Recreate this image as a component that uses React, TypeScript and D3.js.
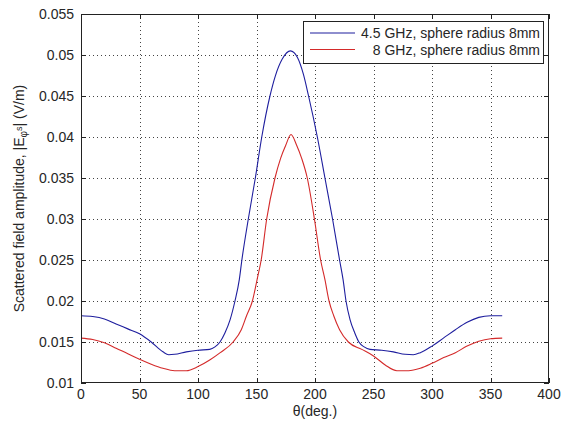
import { useEffect, useRef } from 'react'
import * as d3 from 'd3'

// 4.5 GHz, sphere radius 8mm
const thetaBlue = [0, 10, 20, 30, 40, 50, 60, 70, 75, 80, 90, 100, 110, 114.5, 118.8, 123, 127.4, 131.6, 135.3, 137.5, 143, 149, 154.5, 161.5, 166, 172, 179, 185, 190, 194.5, 202, 208.5, 215, 221, 224, 226.5, 230, 234, 237.5, 242, 247, 257, 267, 277, 284, 290, 300, 310, 320, 330, 340, 350, 360]
const ampBlue = [0.0182, 0.0181, 0.0178, 0.0172, 0.0166, 0.016, 0.015, 0.0138, 0.01345, 0.0135, 0.0138, 0.014, 0.0141, 0.0144, 0.015, 0.0161, 0.0177, 0.02, 0.0226, 0.025, 0.03, 0.035, 0.04, 0.045, 0.0474, 0.0495, 0.0505, 0.0497, 0.0477, 0.045, 0.04, 0.035, 0.03, 0.025, 0.0226, 0.02, 0.0177, 0.0161, 0.015, 0.0144, 0.0141, 0.014, 0.0138, 0.0135, 0.01345, 0.0137, 0.0145, 0.0155, 0.0165, 0.0174, 0.018, 0.0182, 0.0182]

// 8 GHz, sphere radius 8mm
const thetaRed = [0, 10, 20, 30, 40, 50, 60, 70, 80, 90, 100, 110, 119, 130, 137, 141.5, 146.5, 150.5, 154, 158.7, 165.8, 170.6, 175, 179.5, 184.3, 188.6, 193.4, 199.5, 204.8, 208.5, 212, 216, 221, 228.5, 240, 250, 260, 270, 280, 290, 300, 310, 320, 330, 340, 350, 360]
const ampRed = [0.01547, 0.0153, 0.0149, 0.01425, 0.01356, 0.0129, 0.0123, 0.0118, 0.0115, 0.0115, 0.012, 0.0128, 0.0137, 0.015, 0.0165, 0.0182, 0.02, 0.0226, 0.025, 0.03, 0.035, 0.0374, 0.039, 0.0403, 0.039, 0.0374, 0.035, 0.03, 0.025, 0.0226, 0.02, 0.0182, 0.0165, 0.015, 0.0141, 0.0133, 0.0122, 0.0115, 0.0115, 0.0118, 0.0124, 0.0131, 0.0137, 0.0145, 0.0151, 0.0154, 0.01547]

const xTicks = [0, 50, 100, 150, 200, 250, 300, 350, 400]
const yTicks = [0.01, 0.015, 0.02, 0.025, 0.03, 0.035, 0.04, 0.045, 0.05, 0.055]
const yTickLabels = ['0.01', '0.015', '0.02', '0.025', '0.03', '0.035', '0.04', '0.045', '0.05', '0.055']

const seriesNames = ['4.5 GHz, sphere radius 8mm', '8 GHz, sphere radius 8mm']
const seriesColors = ['#1e1e9e', '#d42a2a']

export default function App() {
  const svgRef = useRef<SVGSVGElement>(null)

  useEffect(() => {
    if (!svgRef.current) return
    const width = 569
    const height = 425
    const margin = { top: 14, right: 20, bottom: 42, left: 81 }
    const innerW = width - margin.left - margin.right
    const innerH = height - margin.top - margin.bottom
    const font = 'Arial, "Liberation Sans", sans-serif'
    const textColor = '#262626'

    const svg = d3.select(svgRef.current)
    svg.selectAll('*').remove()
    svg.attr('width', width).attr('height', height)
    svg.append('rect').attr('width', width).attr('height', height).attr('fill', '#fff')

    const g = svg.append('g').attr('transform', `translate(${margin.left},${margin.top})`)

    const x = d3.scaleLinear().domain([0, 400]).range([0, innerW])
    const y = d3.scaleLinear().domain([0.01, 0.055]).range([innerH, 0])

    // Grid (dotted)
    xTicks.slice(1, -1).forEach(t => {
      g.append('line')
        .attr('x1', Math.round(x(t)) + 0.5).attr('x2', Math.round(x(t)) + 0.5)
        .attr('y1', 0).attr('y2', innerH)
        .attr('stroke', '#444').attr('stroke-dasharray', '1,3')
    })
    yTicks.slice(1, -1).forEach(t => {
      g.append('line')
        .attr('y1', Math.round(y(t)) + 0.5).attr('y2', Math.round(y(t)) + 0.5)
        .attr('x1', 0).attr('x2', innerW)
        .attr('stroke', '#444').attr('stroke-dasharray', '1,3')
    })

    // Curves
    const series = [
      { th: thetaBlue, amp: ampBlue },
      { th: thetaRed, amp: ampRed },
    ]
    const line = d3.line<[number, number]>()
      .x(d => x(d[0]))
      .y(d => y(d[1]))
      .curve(d3.curveMonotoneX)
    series.forEach((s, i) => {
      const pts: [number, number][] = s.th.map((t, k) => [t, s.amp[k]])
      g.append('path')
        .attr('d', line(pts))
        .attr('fill', 'none')
        .attr('stroke', seriesColors[i])
        .attr('stroke-width', 1.1)
    })

    // Box
    g.append('rect')
      .attr('x', 0.5).attr('y', 0.5)
      .attr('width', innerW - 1).attr('height', innerH - 1)
      .attr('fill', 'none').attr('stroke', '#222')

    // Inward ticks on all four sides
    const tl = 5
    xTicks.forEach(t => {
      const px = Math.round(x(t)) + 0.5
      g.append('line').attr('x1', px).attr('x2', px).attr('y1', innerH).attr('y2', innerH - tl).attr('stroke', '#222')
      g.append('line').attr('x1', px).attr('x2', px).attr('y1', 0).attr('y2', tl).attr('stroke', '#222')
      g.append('text')
        .attr('x', x(t)).attr('y', innerH + 16)
        .attr('text-anchor', 'middle')
        .attr('font-family', font).attr('font-size', '14px').attr('fill', textColor)
        .text(String(t))
    })
    yTicks.forEach((t, i) => {
      const py = Math.round(y(t)) + 0.5
      g.append('line').attr('y1', py).attr('y2', py).attr('x1', 0).attr('x2', tl).attr('stroke', '#222')
      g.append('line').attr('y1', py).attr('y2', py).attr('x1', innerW).attr('x2', innerW - tl).attr('stroke', '#222')
      g.append('text')
        .attr('x', -7).attr('y', y(t)).attr('dy', '0.36em')
        .attr('text-anchor', 'end')
        .attr('font-family', font).attr('font-size', '14px').attr('fill', textColor)
        .text(yTickLabels[i])
    })

    // X label
    g.append('text')
      .attr('x', innerW / 2).attr('y', innerH + 32.5)
      .attr('text-anchor', 'middle')
      .attr('font-family', font).attr('font-size', '14px').attr('fill', textColor)
      .text('θ(deg.)')

    // Y label
    const yl = svg.append('text')
      .attr('transform', `translate(24,${margin.top + innerH / 2}) rotate(-90)`)
      .attr('text-anchor', 'middle')
      .attr('font-family', font).attr('font-size', '14px').attr('fill', textColor)
    yl.append('tspan').text('Scattered field amplitude, |E')
    yl.append('tspan').attr('dy', 3).attr('font-size', '10px').text('φ')
    yl.append('tspan').attr('dy', -5).attr('font-size', '9px').text('s')
    yl.append('tspan').attr('dy', 2).text('| (V/m)')

    // Legend
    const lg = svg.append('g')
    lg.append('rect')
      .attr('x', 303.5).attr('y', 21.5).attr('width', 240).attr('height', 42)
      .attr('fill', '#fff').attr('stroke', '#222')
    seriesNames.forEach((name, i) => {
      const cy = 33 + i * 16.5
      lg.append('line')
        .attr('x1', 310).attr('x2', 355).attr('y1', cy).attr('y2', cy)
        .attr('stroke', seriesColors[i]).attr('stroke-width', 1.1)
      lg.append('text')
        .attr('x', 540).attr('y', cy + 5)
        .attr('text-anchor', 'end')
        .attr('font-family', font).attr('font-size', '14px').attr('fill', textColor)
        .text(name)
    })
  }, [])

  return (
    <div style={{ position: 'absolute', left: 0, top: 0 }}>
      <svg ref={svgRef} style={{ display: 'block' }} />
    </div>
  )
}
